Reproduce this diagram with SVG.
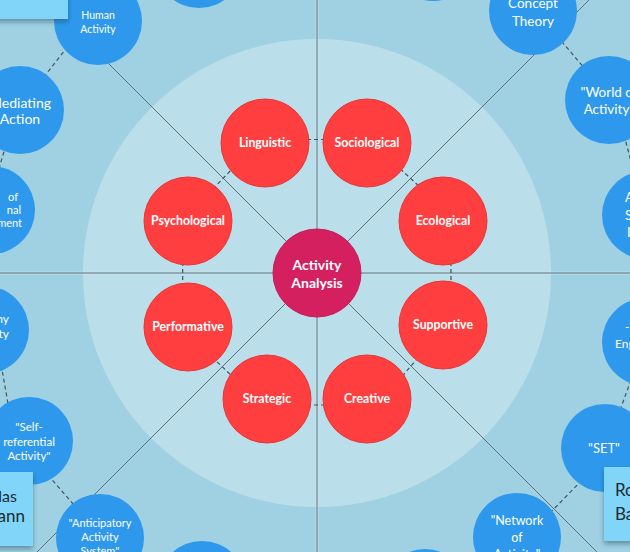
<svg xmlns="http://www.w3.org/2000/svg" width="630" height="552" viewBox="0 0 630 552">
<defs>
<style>
.bg{fill:#a0d1e3}
.inner{fill:#bbdfea}
.axis{stroke:#5f707a;stroke-width:1;fill:none}
.halo{stroke:#cfe8f0;stroke-width:3;opacity:0.6;fill:none}
.dash{stroke:#44535c;stroke-width:1.2;stroke-dasharray:4 3;fill:none}
.blue{fill:#2e99ec}
.red{fill:#ff3f3f;stroke:#e93434;stroke-width:1}
.core{fill:#d5205f;stroke:#c51a55;stroke-width:1}
.rt{font-family:Lato,"Open Sans",sans-serif;font-weight:bold;font-size:12.3px;fill:#fff;text-anchor:middle}
.ct{font-family:Lato,"Open Sans",sans-serif;font-weight:bold;font-size:14px;fill:#fff;text-anchor:middle}
.bt{font-family:Lato,"Open Sans",sans-serif;font-size:13px;fill:#fff;text-anchor:middle}
.note{fill:#80d5f8}
.nt{font-family:Lato,"Open Sans",sans-serif;font-size:17px;fill:#1e2a30}
</style>
<filter id="sh" x="-20%" y="-20%" width="140%" height="160%">
<feDropShadow dx="0" dy="3" stdDeviation="2.5" flood-color="#1a3a4a" flood-opacity="0.45"/>
</filter>
</defs>

<rect class="bg" x="0" y="0" width="630" height="552"/>
<circle class="inner" cx="317" cy="273" r="234"/>

<g id="connectors">
<line class="halo" x1="0" y1="273" x2="630" y2="273"/>
<line class="halo" x1="317" y1="0" x2="317" y2="552"/>
<line class="axis" x1="0" y1="273" x2="630" y2="273"/>
<line class="axis" x1="317" y1="0" x2="317" y2="552"/>
<line class="axis" x1="45" y1="0" x2="317" y2="272"/>
<line class="axis" x1="589" y1="0" x2="317" y2="272"/>
<line class="axis" x1="37" y1="552" x2="317" y2="272"/>
<line class="axis" x1="597" y1="552" x2="317" y2="272"/>
<line class="dash" x1="300" y1="139.5" x2="332" y2="139.5"/>
<line class="dash" x1="395" y1="164" x2="421" y2="188"/>
<line class="dash" x1="451" y1="255" x2="451" y2="295"/>
<line class="dash" x1="423" y1="352" x2="399" y2="380"/>
<line class="dash" x1="300" y1="405" x2="335" y2="405"/>
<line class="dash" x1="212" y1="357" x2="234" y2="378"/>
<line class="dash" x1="182.7" y1="255" x2="182.7" y2="295"/>
<line class="dash" x1="208" y1="194" x2="236" y2="165"/>
<line class="dash" x1="72" y1="41" x2="40" y2="82"/>
<line class="dash" x1="6" y1="145" x2="-3" y2="175"/>
<line class="dash" x1="0" y1="358" x2="10" y2="415"/>
<line class="dash" x1="48" y1="475" x2="80" y2="512"/>
<line class="dash" x1="557" y1="36" x2="586" y2="70"/>
<line class="dash" x1="624" y1="135" x2="632" y2="165"/>
<line class="dash" x1="620" y1="410" x2="634" y2="372"/>
<line class="dash" x1="545" y1="518" x2="585" y2="477"/>
</g>

<g id="activity-analysis"><circle class="core" cx="317" cy="273" r="44"/><text class="ct" x="317" y="270">Activity</text><text class="ct" x="317" y="288">Analysis</text></g>

<g id="linguistic"><circle class="red" cx="265" cy="143" r="44"/><text class="rt" x="265" y="147">Linguistic</text></g>
<g id="sociological"><circle class="red" cx="367" cy="143" r="44"/><text class="rt" x="367" y="147">Sociological</text></g>
<g id="psychological"><circle class="red" cx="188" cy="221" r="44"/><text class="rt" x="188" y="225">Psychological</text></g>
<g id="ecological"><circle class="red" cx="443" cy="221" r="44"/><text class="rt" x="443" y="225">Ecological</text></g>
<g id="performative"><circle class="red" cx="188" cy="327" r="44"/><text class="rt" x="188" y="331">Performative</text></g>
<g id="supportive"><circle class="red" cx="443" cy="325" r="44"/><text class="rt" x="443" y="329">Supportive</text></g>
<g id="strategic"><circle class="red" cx="267" cy="399" r="44"/><text class="rt" x="267" y="403">Strategic</text></g>
<g id="creative"><circle class="red" cx="367" cy="399" r="44"/><text class="rt" x="367" y="403">Creative</text></g>

<g id="top-circle"><circle class="blue" cx="199" cy="-36" r="44"/></g>
<g id="top-right-circle"><circle class="blue" cx="433" cy="-43" r="44"/></g>
<g id="human-activity"><circle class="blue" cx="98" cy="21" r="44"/><text class="bt" style="font-size:10.5px" x="98" y="19">Human</text><text class="bt" style="font-size:10.5px" x="98" y="33">Activity</text></g>
<g id="mediating-action"><circle class="blue" cx="20" cy="110" r="44"/><text class="bt" style="font-size:14px" x="20" y="108">Mediating</text><text class="bt" style="font-size:14px" x="20" y="124">Action</text></g>
<g id="left-circle-1"><circle class="blue" cx="-9" cy="210" r="44"/><text class="bt" style="font-size:11px;text-anchor:end" x="18" y="201">of</text><text class="bt" style="font-size:11px;text-anchor:end" x="21" y="214">nal</text><text class="bt" style="font-size:11px;text-anchor:end" x="22" y="227">ment</text></g>
<g id="left-circle-2"><circle class="blue" cx="-15" cy="330" r="44"/><text class="bt" style="font-size:12px;text-anchor:end" x="9" y="323">ny</text><text class="bt" style="font-size:12px;text-anchor:end" x="9" y="338">ty</text></g>
<g id="self-referential"><circle class="blue" cx="29" cy="441" r="44"/><text class="bt" style="font-size:11.5px" x="29" y="431">"Self-</text><text class="bt" style="font-size:11.5px" x="29" y="446">referential</text><text class="bt" style="font-size:11.5px" x="29" y="460">Activity"</text></g>
<g id="anticipatory"><circle class="blue" cx="100" cy="538" r="44"/><text class="bt" style="font-size:11px" x="100" y="527">"Anticipatory</text><text class="bt" style="font-size:11px" x="100" y="541">Activity</text><text class="bt" style="font-size:11px" x="100" y="555">System"</text></g>
<g id="bottom-circle"><circle class="blue" cx="202" cy="585" r="44"/></g>
<g id="bottom-right-circle"><circle class="blue" cx="425" cy="593" r="44"/></g>
<g id="network"><circle class="blue" cx="517" cy="537" r="44"/><text class="bt" style="font-size:12.5px" x="517" y="525">"Network</text><text class="bt" style="font-size:12.5px" x="517" y="542">of</text><text class="bt" style="font-size:12.5px" x="517" y="559">Activity"</text></g>
<g id="set"><circle class="blue" cx="605" cy="448" r="44"/><text class="bt" x="604" y="453">"SET"</text></g>
<g id="right-circle-2"><circle class="blue" cx="646" cy="342" r="44"/><text class="bt" style="font-size:12px;text-anchor:start" x="625" y="331">-</text><text class="bt" style="font-size:12px;text-anchor:start" x="615" y="348">Eng</text></g>
<g id="right-circle-1"><circle class="blue" cx="646" cy="215" r="44"/><text class="bt" style="font-size:13px;text-anchor:start" x="625" y="202">A</text><text class="bt" style="font-size:13px;text-anchor:start" x="625" y="220">S</text><text class="bt" style="font-size:13px;text-anchor:start" x="627" y="237">I</text></g>
<g id="world-of-activity"><circle class="blue" cx="609" cy="100" r="44"/><text class="bt" style="font-size:13.5px" x="609" y="97">"World of</text><text class="bt" style="font-size:13.5px" x="609" y="114">Activity"</text></g>
<g id="concept-theory"><circle class="blue" cx="533" cy="11" r="44"/><text class="bt" style="font-size:13.5px" x="533" y="8">Concept</text><text class="bt" style="font-size:13.5px" x="533" y="26">Theory</text></g>

<g id="note-top-left"><rect class="note" x="-10" y="-10" width="78" height="29" filter="url(#sh)"/></g>
<g id="note-bottom-left"><rect class="note" x="-10" y="472" width="43" height="74" filter="url(#sh)"/><text class="nt" style="font-size:16px" x="17" y="502" text-anchor="end">las</text><text class="nt" x="25" y="522" text-anchor="end">mann</text></g>
<g id="note-bottom-right"><rect class="note" x="604" y="467" width="40" height="74" filter="url(#sh)"/><text class="nt" x="615" y="496">Ro</text><text class="nt" x="615" y="520">Ba</text></g>
</svg>
